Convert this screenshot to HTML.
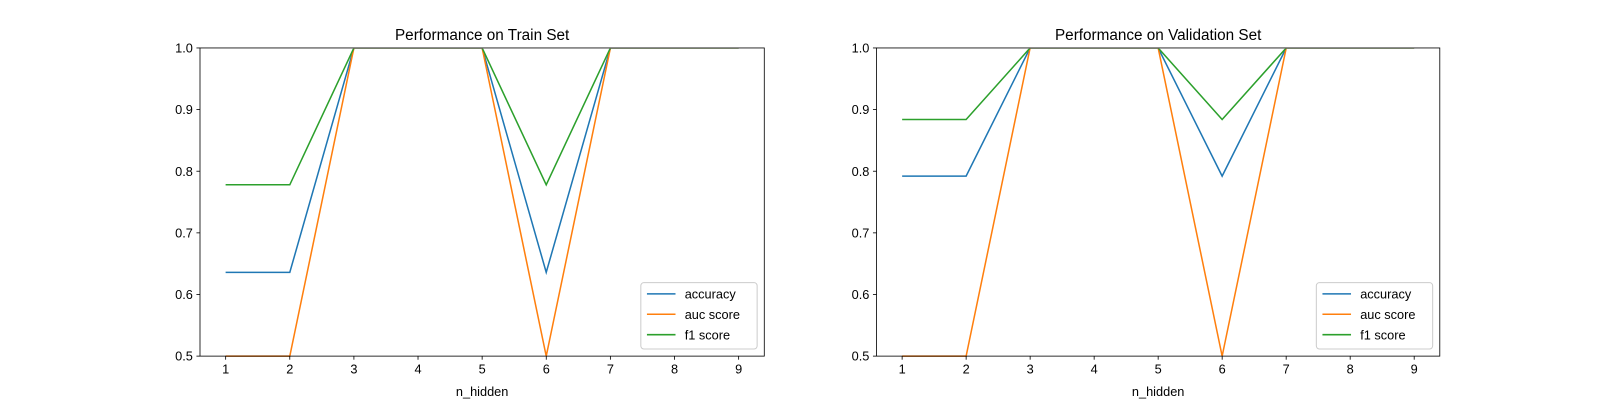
<!DOCTYPE html>
<html><head><meta charset="utf-8"><style>
body{margin:0;background:#fff;}
text{font-family:"Liberation Sans","DejaVu Sans",sans-serif;fill:#000;}
</style></head><body>
<svg id="chart" width="1600" height="400" viewBox="0 0 1568 392" xmlns="http://www.w3.org/2000/svg"></svg>
<script>
const xValues=[1,2,3,4,5,6,7,8,9];
const yTicks=[0.5,0.6,0.7,0.8,0.9,1.0];
const seriesNames=["accuracy","auc score","f1 score"];
const seriesColors=["#1f77b4","#ff7f0e","#2ca02c"];
const trainAccuracy=[0.636,0.636,1,1,1,0.636,1,1,1];
const trainAuc=[0.5,0.5,1,1,1,0.5,1,1,1];
const trainF1=[0.778,0.778,1,1,1,0.778,1,1,1];
const valAccuracy=[0.792,0.792,1,1,1,0.792,1,1,1];
const valAuc=[0.5,0.5,1,1,1,0.5,1,1,1];
const valF1=[0.884,0.884,1,1,1,0.884,1,1,1];
const panels=[
 {title:"Performance on Train Set",left:196,right:749,series:[trainAccuracy,trainAuc,trainF1],key:"train"},
 {title:"Performance on Validation Set",left:859,right:1411,series:[valAccuracy,valAuc,valF1],key:"validation"}
];
const plotTop=47,plotBottom=349;
const svg=document.getElementById('chart');
const NS="http://www.w3.org/2000/svg";
function mk(tag,attrs,parent){const e=document.createElementNS(NS,tag);for(const k in attrs)e.setAttribute(k,attrs[k]);(parent||svg).appendChild(e);return e;}
panels.forEach((p,pi)=>{
 const g=mk('g',{});
 
 
 const xs=v=>p.left+(v-0.6)/(8.8)*(p.right-p.left);
 const ys=v=>plotBottom-(v-0.5)/0.5*(plotBottom-plotTop);
 const defs=mk('defs',{},g);
 const cp=mk('clipPath',{id:'clip'+pi},defs);
 mk('rect',{x:p.left,y:plotTop+0.8,width:p.right-p.left,height:plotBottom-plotTop},cp);
 p.series.forEach((s,si)=>{
  const pts=s.map((v,i)=>xs(xValues[i]).toFixed(1)+','+ys(v).toFixed(1)).join(' ');
  const l=mk('polyline',{points:pts,fill:'none',stroke:seriesColors[si],'stroke-width':1.5,'clip-path':'url(#clip'+pi+')'},g);
  
  
 });
 const frame=mk('rect',{x:p.left,y:plotTop,width:p.right-p.left,height:plotBottom-plotTop,fill:'none',stroke:'#000','stroke-width':0.8},g);
 
 
 xValues.forEach(v=>{
  const x=xs(v);
  mk('line',{x1:x,x2:x,y1:plotBottom,y2:plotBottom+3.5,stroke:'#000','stroke-width':0.8},g);
  const t=mk('text',{x:x,y:plotBottom+17,'font-size':12.5,'text-anchor':'middle'},g);t.textContent=v;
  
  
 });
 yTicks.forEach(v=>{
  const y=ys(v);
  mk('line',{x1:p.left-3.5,x2:p.left,y1:y,y2:y,stroke:'#000','stroke-width':0.8},g);
  const t=mk('text',{x:p.left-7,y:y+4.5,'font-size':12.5,'text-anchor':'end'},g);t.textContent=v.toFixed(1);
  
  
 });
 const xt=mk('text',{x:(p.left+p.right)/2,y:388,'font-size':12.5,'text-anchor':'middle'},g);xt.textContent='n_hidden';
 
 
 const tt=mk('text',{x:(p.left+p.right)/2,y:39,'font-size':15,'text-anchor':'middle'},g);tt.textContent=p.title;
 
 
 const lg=mk('g',{},g);
 
 
 const lx=p.right-121,ly=277;
 mk('rect',{x:lx,y:ly,width:114,height:65,rx:3,fill:'#fff','fill-opacity':0.8,stroke:'#ccc','stroke-width':1},lg);
 seriesNames.forEach((n,si)=>{
  const y=ly+11+si*20;
  const e=mk('g',{},lg);
  
  
  mk('line',{x1:lx+6,x2:lx+34,y1:y,y2:y,stroke:seriesColors[si],'stroke-width':1.5},e);
  const t=mk('text',{x:lx+43,y:y+4.5,'font-size':12.5},e);t.textContent=n;
 });
});
</script>
</body></html>
